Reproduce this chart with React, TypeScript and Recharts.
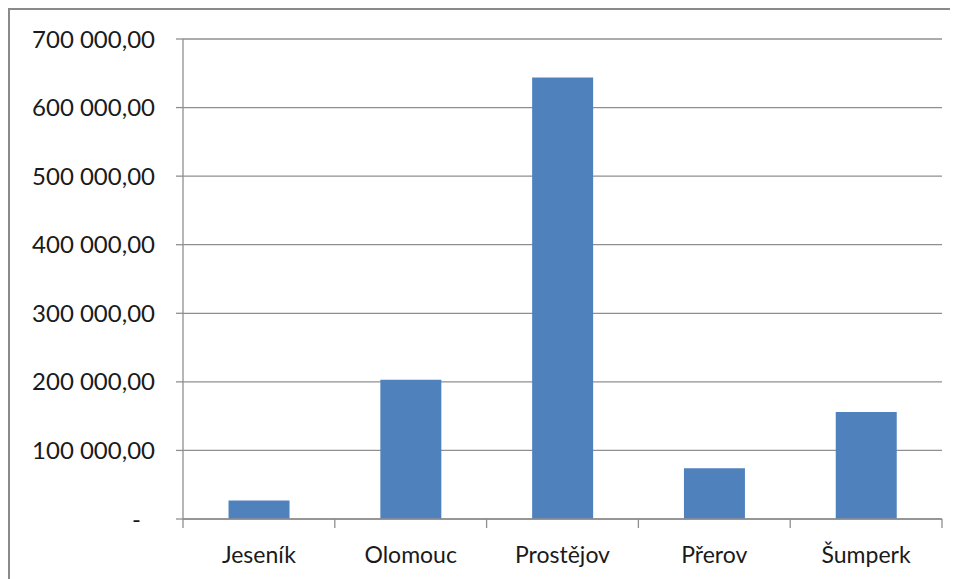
import { BarChart, Bar, XAxis, YAxis, CartesianGrid } from 'recharts'

const okresy = ['Jeseník', 'Olomouc', 'Prostějov', 'Přerov', 'Šumperk']
const castky = [27000, 203000, 644000, 74000, 156000]
const yTicks = [0, 100000, 200000, 300000, 400000, 500000, 600000, 700000]

const data = okresy.map((okres, i) => ({ okres, castka: castky[i] }))

const CHART_W = 956
const CHART_H = 581
const MARGIN = { top: 29, right: 24, bottom: 0, left: 0 }
const Y_W = 173
const PLOT_W = CHART_W - MARGIN.left - MARGIN.right - Y_W
const BAND = PLOT_W / okresy.length

const FONT = 'Lato, "Open Sans", sans-serif'
const TEXT = '#1a1a1a'
const LINE = '#8f8f8f'

function formatCz(v: number) {
  if (v === 0) return '-'
  const [int, dec] = v.toFixed(2).split('.')
  return int.replace(/\B(?=(\d{3})+(?!\d))/g, ' ') + ',' + dec
}

function YTick(props: any) {
  const { x, y, payload } = props
  const zero = payload.value === 0
  return (
    <text
      x={zero ? x - 14 : x}
      y={y}
      dy="0.355em"
      textAnchor="end"
      fontSize={24}
      fontFamily={FONT}
      fill={TEXT}
    >
      {formatCz(payload.value)}
    </text>
  )
}

function XTick(props: any) {
  const { x, y, payload, index } = props
  const left = x - BAND / 2
  const last = index === okresy.length - 1
  return (
    <g>
      <line x1={left} x2={left} y1={y} y2={y + 9} stroke={LINE} strokeWidth={1.3} />
      {last && <line x1={x + BAND / 2} x2={x + BAND / 2} y1={y} y2={y + 9} stroke={LINE} strokeWidth={1.3} />}
      <text x={x} y={y + 27} dy="0.72em" textAnchor="middle" fontSize={23} fontFamily={FONT} fill={TEXT}>
        {payload.value}
      </text>
    </g>
  )
}

export default function App() {
  return (
    <div style={{ width: 960, height: 585, border: '2px solid #8a8a8a', background: '#fff' }}>
      <BarChart width={CHART_W} height={CHART_H} data={data} margin={MARGIN} barCategoryGap="30%">
        <CartesianGrid vertical={false} stroke={LINE} strokeWidth={1.3} />
        <XAxis
          dataKey="okres"
          height={CHART_H - 509 - MARGIN.bottom}
          interval={0}
          axisLine={{ stroke: LINE, strokeWidth: 1.3 }}
          tickLine={false}
          tickSize={0}
          tickMargin={0}
          tick={<XTick />}
        />
        <YAxis
          width={Y_W}
          domain={[0, 700000]}
          ticks={yTicks}
          interval={0}
          axisLine={{ stroke: LINE, strokeWidth: 1.3 }}
          tickLine={{ stroke: LINE, strokeWidth: 1.3 }}
          tickSize={7}
          tickMargin={21}
          tick={<YTick />}
        />
        <Bar dataKey="castka" fill="#4F81BD" isAnimationActive={false} />
      </BarChart>
    </div>
  )
}
